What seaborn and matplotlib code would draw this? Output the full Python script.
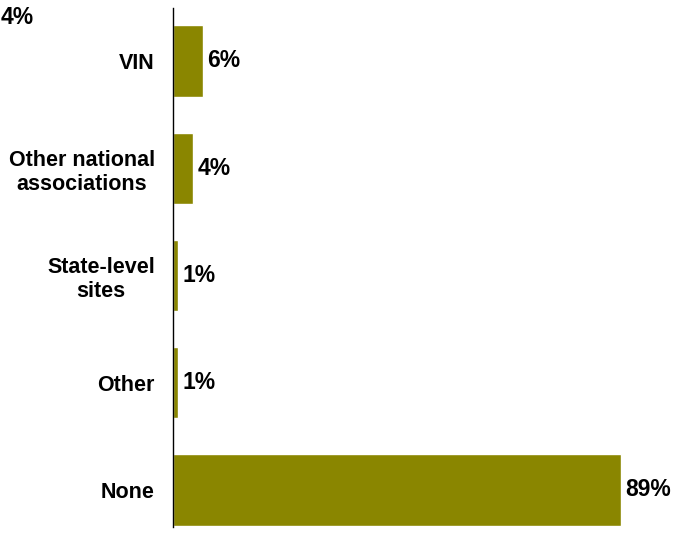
import matplotlib
matplotlib.use("Agg")
import matplotlib.pyplot as plt
import seaborn as sns
import pandas as pd

categories = ["VIN", "Other national\nassociations", "State-level\nsites", "Other", "None"]
shares = [6, 4, 1, 1, 89]
value_labels = ["6%", "4%", "1%", "1%", "89%"]
stray_label = "4%"

sns.set_theme(style="white")
plt.rcParams["font.family"] = ["Liberation Sans", "DejaVu Sans"]
plt.rcParams["font.weight"] = "bold"

df = pd.DataFrame({"source": categories, "share": shares})

W, H = 682, 536
fig = plt.figure(figsize=(W / 100, H / 100), dpi=100)
left, top, bottom = 173, 8, 527
ax = fig.add_axes([left / W, 1 - bottom / H, 1 - left / W, (bottom - top) / H])

sns.barplot(data=df, y="source", x="share", orient="h", color="#8A8600",
            saturation=1, width=0.665, ax=ax)

px_per_pct = (621 - 173) / 89.0
ax.set_xlim(0, (W - left) / px_per_pct)
span = (bottom - top) / 107.25
ax.set_ylim(4 + (bottom - 490) / 107.25, 4 + (bottom - 490) / 107.25 - span)

for i, (v, lab) in enumerate(zip(shares, value_labels)):
    ax.text(v + 4.0 / px_per_pct, i, lab, va="center", ha="left",
            fontsize=16.5, fontweight="bold", color="black")

ax.set_xlabel("")
ax.set_ylabel("")
ax.set_xticks([])
ax.tick_params(axis="y", length=0, pad=13)
for t in ax.get_yticklabels():
    t.set_fontsize(15.5)
    t.set_fontweight("bold")
    t.set_color("black")
    t.set_multialignment("center")

for s in ["top", "right", "bottom"]:
    ax.spines[s].set_visible(False)
ax.spines["left"].set_color("black")
ax.spines["left"].set_linewidth(1.0)

fig.text(0.5 / W, 1 - 18 / H, stray_label, ha="left", va="center",
         fontsize=16.5, fontweight="bold", color="black")

fig.savefig("out.png", dpi=100)
